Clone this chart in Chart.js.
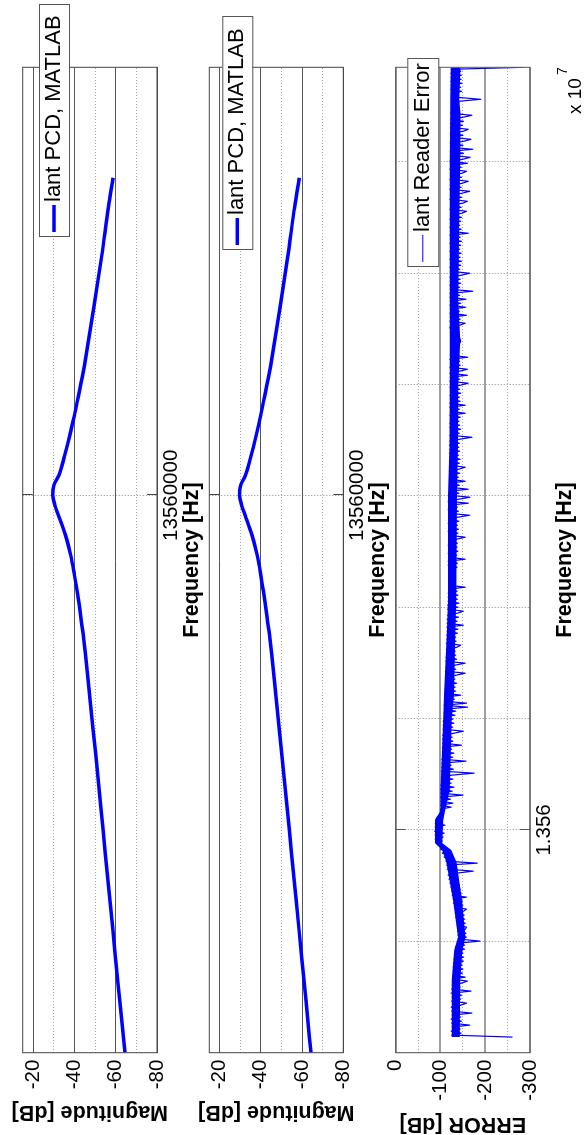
<!DOCTYPE html>
<html>
<head>
<meta charset="utf-8">
<title>PCD vs MATLAB – Reader Error</title>
<script src="https://cdn.jsdelivr.net/npm/chart.js@4.4.1/dist/chart.umd.min.js"></script>
<style>
  html, body { margin: 0; padding: 0; background: #fff; overflow: hidden; }
  body { width: 587px; height: 1135px; position: relative; }
  /* the MATLAB figure was exported landscape and turned a quarter turn */
  #fig { position: absolute; left: -274px; top: 274px; width: 1135px; height: 587px;
         background: #fff; transform: rotate(-90deg); }
  #fig canvas { position: absolute; left: 0; }
</style>
</head>
<body>
<div id="fig">
  <canvas id="c1" width="1135" height="215" style="top:0px"></canvas>
  <canvas id="c2" width="1135" height="215" style="top:190px"></canvas>
  <canvas id="c3" width="1135" height="207" style="top:380px"></canvas>
</div>
<script>
// ── Panels 1 & 2: magnitude sweep ────────────────────────────
const FREQ_MHZ   = [13.00, 13.05, 13.10, 13.15, 13.20, 13.25, 13.30, 13.35, 13.40, 13.42,
                    13.44, 13.46, 13.48, 13.50, 13.52, 13.54, 13.55, 13.56, 13.57, 13.58,
                    13.60, 13.62, 13.64, 13.66, 13.68, 13.70, 13.75, 13.80, 13.85, 13.879];
const MAG_PCD    = [-64.5, -62.1, -59.7, -57.4, -55.0, -52.7, -50.3, -47.8, -45.4, -44.3,
                    -43.0, -41.6, -40.0, -38.2, -35.7, -32.3, -30.6, -29.6, -30.1, -32.5,
                    -35.3, -37.8, -40.0, -42.0, -43.9, -45.6, -49.5, -53.2, -56.5, -58.7];
const MAG_MATLAB = [-64.3, -62.0, -59.6, -57.3, -54.9, -52.6, -50.2, -47.7, -45.3, -44.2,
                    -42.9, -41.5, -40.0, -38.2, -35.7, -32.4, -30.7, -29.7, -30.2, -32.5,
                    -35.3, -37.7, -39.9, -41.9, -43.8, -45.5, -49.4, -53.1, -56.4, -58.6];
const MAG_TICKS  = [-80, -60, -40, -20];
const MAG_MINOR  = [-70, -50, -30];
const FREQ_TICKS = [13560000];

// ── Panel 3: reader error (uniform sweep, low → high frequency) ──
const ERR_F_START = 13550700;
const ERR_F_STOP  = 13594240;
const ERR_DB = [
  -261,
  -125, -146, -124, -144, -126, -165, -125, -147, -124, -145, -126, -170, -125, -143, -124, -146, -158, -125, -145, -126,
  -147, -124, -168, -125, -144, -126, -147, -160,
  -127, -155, -127, -149, -128, -150, -128, -148, -129, -151, -130, -152, -131, -150, -132, -154, -133,
  -154, -140, -188, -143, -158,
  -139, -157, -138, -156, -158, -137, -155, -136, -154, -134, -153, -133, -152, -158, -131, -150, -129, -149, -128, -158,
  -126, -146, -125, -144, -123, -142, -121, -140, -119, -138, -117, -136, -173, -115, -134, -114, -182,
  -112, -125, -108, -118, -104, -110, -100, -104, -95,
  -91, -104, -88, -106, -88, -108, -87, -104, -88, -110, -88, -103,
  -90, -93, -96, -99, -101,
  -100, -124, -100, -128, -101, -122, -100, -150, -101, -126, -100, -130, -101, -124, -102, -128, -102, -125, -175, -102,
  -129, -103, -124, -103, -157, -103, -127, -104, -130, -104, -125, -104, -147, -105, -128, -105, -126, -105, -131, -151,
  -106, -127, -106, -130, -106, -128,
  -108, -132, -108, -134, -109, -160, -108, -158, -109, -131, -109, -145,
  -110, -134, -110, -133, -111, -136, -111, -132, -111, -135, -155, -111, -134, -112, -133, -155, -112, -136, -112, -134,
  -113, -133, -113, -137, -145, -113, -135, -114, -134, -114,
  -138, -115, -139, -114, -151, -115, -137, -115, -140, -116, -138, -151, -116, -139, -116, -141,
  -117, -138, -117, -139, -117, -137, -118, -155,
  -118, -121, -124, -127, -128, -127, -125, -122, -118,
  -137, -117, -138, -117, -155, -118, -136, -117, -139, -118, -137, -117, -138, -118, -136, -155, -118,
  -139, -117, -140, -118, -138, -117, -141, -118, -139, -165, -118, -140, -117, -138, -118, -162, -117, -141, -166, -118,
  -141, -120, -162, -120, -142, -121, -155, -120, -140, -121, -143, -120, -141, -155, -121, -142, -120, -144, -121, -140,
  -120, -143, -121, -141, -120,
  -142, -121, -143, -170, -121, -142, -122, -145, -121, -143, -121, -141, -122, -144, -121, -155, -122, -142, -121, -155,
  -121, -144, -122, -142, -121, -145, -122, -143, -121, -144,
  -162, -121, -143, -122, -160, -121, -142, -160, -121, -144, -122, -143, -121, -161, -122,
  -123, -127, -131, -136, -140, -143, -145, -144, -141, -137, -132, -127, -123,
  -121, -143, -155, -121, -144, -122, -158, -121, -142, -122, -156, -121, -145, -122, -157, -121, -143,
  -121, -172, -122, -143, -121, -145, -122, -144, -121, -146, -165, -122, -143, -121, -145, -122, -147, -121, -144, -122,
  -146, -121, -143, -122, -145, -121, -147, -122, -144, -121, -162, -122, -146, -121, -143, -122, -145,
  -121, -147, -122, -148, -158, -121, -146, -122, -149, -160, -121, -147, -122, -148, -165, -121, -146, -122, -149, -162,
  -121, -147, -122, -148, -158, -121, -146, -122, -160, -121,
  -150, -166, -123, -151, -122, -172, -123, -150, -122, -152, -168, -123, -150, -122, -151, -162, -123, -149, -122, -151,
  -123, -150, -170, -123,
  -124, -128, -133, -138, -141, -140, -190, -136, -130, -125,
  -147, -123, -145, -124, -148, -123, -146, -124, -147, -123, -145, -124,
  -285,
];
// the error trace is so dense it reads as a solid band: its two edges
const ERR_BAND_HZ  = [13550700, 13553263, 13554610, 13555193, 13556854, 13558559, 13559098,
                      13559412, 13560444, 13560848, 13561791, 13565022, 13566055, 13568748,
                      13570319, 13575031, 13577276, 13579969, 13581988, 13583784, 13587374,
                      13590067, 13592177, 13592760, 13594240];
const ERR_BAND_TOP = [-125, -125, -131, -139, -128, -113, -104,
                      -88, -88, -100, -100, -106, -108, -114,
                      -117, -117, -120, -121, -121, -121, -121,
                      -121, -122, -122, -123];
const ERR_BAND_LOW = [-143, -144, -149, -156, -148, -136, -124,
                      -104, -106, -110, -121, -125, -130, -133,
                      -135, -137, -139, -140, -144, -140, -142,
                      -144, -145, -142, -145];
const ERR_TICKS      = [0, -100, -200, -300];
const ERR_MINOR      = [-50, -150, -250];
const ERR_FREQ_TICKS = [13550000, 13555000, 13560000, 13565000, 13570000,
                        13575000, 13580000, 13585000, 13590000];

// ── Look ─────────────────────────────────────────────────────
const FONT  = '"Liberation Sans", Arial, Helvetica, sans-serif';
const BLUE  = '#0000ff';
const FIG_W = 1135;
const PLOT_LEFT  = 82.3;     // left edge of every axes box
const PLOT_RIGHT = 1067.7;   // right edge of every axes box
const TICK_SIZE  = 20.5, LABEL_SIZE = 21.5;

Chart.defaults.font.family = FONT;
Chart.defaults.color = '#000';

const $ = id => document.getElementById(id);

// MATLAB style box with inward tick marks
const axesBox = {
  id: 'axesBox',
  afterDatasetsDraw(chart, args, o) {
    const { ctx, chartArea: a, scales: { x } } = chart;
    ctx.save();
    ctx.lineWidth = 1;
    ctx.strokeStyle = o.color;
    x.ticks.forEach(t => {
      if (!t.label) return;
      const px = Math.round(x.getPixelForValue(t.value)) + 0.5;
      ctx.beginPath();
      ctx.moveTo(px, a.top);    ctx.lineTo(px, a.top + o.tickLen);
      ctx.moveTo(px, a.bottom); ctx.lineTo(px, a.bottom - o.tickLen);
      ctx.stroke();
    });
    ctx.strokeRect(a.left, a.top, a.right - a.left, a.bottom - a.top);
    ctx.restore();
  }
};

// boxed legend that may hang over the axes
const boxLegend = {
  id: 'boxLegend',
  afterDraw(chart, args, o) {
    const { ctx } = chart;
    const ds = chart.data.datasets[0];
    const cy = o.y + o.h / 2;
    ctx.save();
    ctx.fillStyle = '#fff';
    ctx.fillRect(o.x, o.y, o.w, o.h);
    ctx.strokeStyle = '#555';
    ctx.lineWidth = 1;
    ctx.strokeRect(o.x + 0.5, o.y + 0.5, o.w, o.h);
    ctx.strokeStyle = ds.borderColor;
    ctx.lineWidth = o.lineWidth || ds.borderWidth;
    ctx.beginPath();
    ctx.moveTo(o.x + 5, cy); ctx.lineTo(o.x + 32, cy);
    ctx.stroke();
    ctx.fillStyle = '#000';
    ctx.font = `${o.size}px ${FONT}`;
    ctx.textBaseline = 'middle';
    ctx.fillText(ds.label, o.x + 35, cy);
    ctx.restore();
  }
};

// "x 10^7" exponent under the right end of the frequency axis
const expLabel = {
  id: 'expLabel',
  afterDraw(chart, args, o) {
    if (!o.text) return;
    const { ctx, chartArea: a } = chart;
    ctx.save();
    ctx.fillStyle = '#000';
    ctx.textAlign = 'right';
    ctx.textBaseline = 'middle';
    ctx.font = `14px ${FONT}`;
    ctx.fillText(o.sup, a.right, o.supY);
    const w = ctx.measureText(o.sup).width;
    ctx.font = `19px ${FONT}`;
    ctx.fillText(o.text, a.right - w - 3, o.y);
    ctx.restore();
  }
};

function setTicks(list) {
  return s => { s.ticks = list.map(v => ({ value: v })); };
}

function makePanel(id, p) {
  const cv = $(id);
  const axisH = cv.height - p.plotBottom;
  const half = LABEL_SIZE * 1.2 / 2;
  const datasets = [{
    label: p.label,
    data: p.points,
    borderColor: BLUE,
    borderWidth: p.lineWidth,
    borderJoinStyle: 'round',
    pointRadius: 0,
    fill: false,
    tension: 0,
    cubicInterpolationMode: p.smooth ? 'monotone' : 'default',
  }];
  if (p.band) {
    const edge = { borderColor: 'rgba(0,0,0,0)', borderWidth: 0, pointRadius: 0 };
    datasets.push(Object.assign({ label: 'band top', data: p.band.top,
                                  fill: '+1', backgroundColor: BLUE }, edge));
    datasets.push(Object.assign({ label: 'band low', data: p.band.low, fill: false }, edge));
  }
  return new Chart(cv, {
    type: 'line',
    data: { datasets },
    options: {
      responsive: false,
      animation: false,
      events: [],
      layout: { padding: { top: p.plotTop, right: FIG_W - PLOT_RIGHT, left: 0, bottom: 0 } },
      plugins: {
        legend: { display: false },
        tooltip: { enabled: false },
        axesBox: { color: p.boxColor, tickLen: 10 },
        boxLegend: p.legend,
        expLabel: p.exp || {},
      },
      scales: {
        x: {
          type: 'linear',
          min: p.xMin, max: p.xMax,
          afterBuildTicks: setTicks(p.xTicks),
          afterFit: s => { s.height = axisH; s.paddingLeft = 0; s.paddingRight = 0; },
          grid: { color: '#8a8a8a', lineWidth: 1, drawTicks: false },
          border: { display: false, dash: [1, 2] },
          ticks: { padding: 14 - TICK_SIZE * 0.6, autoSkip: false, maxRotation: 0, minRotation: 0,
                   font: { size: TICK_SIZE }, callback: p.xLabel },
          title: { display: true, text: 'Frequency [Hz]', color: '#000',
                   font: { size: LABEL_SIZE, weight: 'bold' },
                   padding: { top: 0, bottom: axisH - 35 - half } },
        },
        y: {
          position: 'left',
          min: p.yMin, max: p.yMax,
          afterBuildTicks: setTicks(p.yTicks),
          afterFit: s => { s.width = PLOT_LEFT; s.paddingTop = 0; s.paddingBottom = 0; },
          grid: { color: p.majorColor, lineWidth: p.majorWidth, drawTicks: false },
          border: { display: false },
          ticks: { padding: 7, font: { size: TICK_SIZE } },
          title: { display: true, text: p.yTitle, color: '#000',
                   font: { size: LABEL_SIZE, weight: 'bold' },
                   padding: { top: p.yTitleX - half, bottom: 0 } },
        },
        yMinor: {
          position: 'left',
          min: p.yMin, max: p.yMax,
          afterBuildTicks: setTicks(p.yMinor),
          afterFit: s => { s.width = 0; s.paddingTop = 0; s.paddingBottom = 0; },
          grid: { color: '#a8a8a8', lineWidth: 1, drawTicks: false },
          border: { display: false, dash: [1, 2] },
          ticks: { display: false },
        },
      },
    },
    plugins: [axesBox, boxLegend, expLabel],
  });
}

const magPoints = ys => FREQ_MHZ.map((f, i) => ({ x: f * 1e6, y: ys[i] }));
const errStep = (ERR_F_STOP - ERR_F_START) / (ERR_DB.length - 1);
const errPoints = ERR_DB.map((v, i) => ({ x: ERR_F_START + i * errStep, y: v }));
const bandPoints = ys => ERR_BAND_HZ.map((f, i) => ({ x: f, y: ys[i] }));

const magCommon = {
  xMin: 13.0e6, xMax: 13.99e6, xTicks: FREQ_TICKS,
  xLabel: v => (FREQ_TICKS.includes(v) ? String(v) : ''),
  yMin: -80, yMax: -15, yTicks: MAG_TICKS, yMinor: MAG_MINOR,
  yTitle: 'Magnitude [dB]', yTitleX: 23,
  majorColor: '#555', majorWidth: 1, boxColor: '#444',
  lineWidth: 3.5, smooth: true,
};

makePanel('c1', Object.assign({}, magCommon, {
  label: 'lant PCD, MATLAB', points: magPoints(MAG_PCD),
  plotTop: 22.7, plotBottom: 157,
  legend: { x: 898, y: 39, w: 232, h: 30, size: 22 },
}));

makePanel('c2', Object.assign({}, magCommon, {
  label: 'lant PCD, MATLAB', points: magPoints(MAG_MATLAB),
  plotTop: 19.3, plotBottom: 153.3,
  legend: { x: 885, y: 32.3, w: 233, h: 30, size: 22 },
}));

makePanel('c3', {
  label: 'lant Reader Error', points: errPoints,
  band: { top: bandPoints(ERR_BAND_TOP), low: bandPoints(ERR_BAND_LOW) },
  xMin: 13550000, xMax: ERR_F_STOP, xTicks: ERR_FREQ_TICKS,
  xLabel: v => (v === 13560000 ? (v / 1e7).toFixed(3) : ''),
  yMin: -300, yMax: 0, yTicks: ERR_TICKS, yMinor: ERR_MINOR,
  yTitle: 'ERROR [dB]', yTitleX: 11,
  majorColor: '#a0a0a0', majorWidth: 2, boxColor: '#555',
  lineWidth: 1.2, smooth: false,
  plotTop: 15.7, plotBottom: 150,
  legend: { x: 868, y: 27.3, w: 208, h: 31, size: 22, lineWidth: 1 },
  exp: { text: 'x 10', sup: '7', y: 196, supY: 183.5 },
});
</script>
</body>
</html>
